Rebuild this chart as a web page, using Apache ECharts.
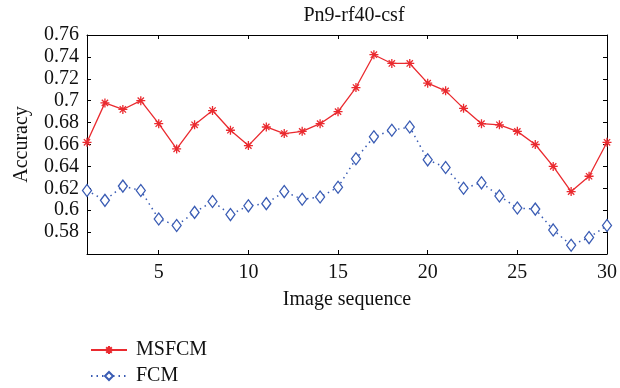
<!DOCTYPE html>
<html><head><meta charset="utf-8">
<script src="https://cdn.jsdelivr.net/npm/echarts@6/dist/echarts.min.js"></script>
<style>html,body{margin:0;padding:0;background:#fff}#c{width:620px;height:388px}</style>
</head><body><div id="c"></div>
<script>
var imageSeq = [1,2,3,4,5,6,7,8,9,10,11,12,13,14,15,16,17,18,19,20,21,22,23,24,25,26,27,28,29,30];
var msfcm = [0.662,0.698,0.692,0.700,0.679,0.656,0.678,0.691,0.673,0.659,0.676,0.670,0.672,0.679,0.690,0.712,0.742,0.734,0.734,0.716,0.709,0.693,0.679,0.678,0.672,0.660,0.640,0.617,0.631,0.662];
var fcm = [0.618,0.609,0.622,0.618,0.592,0.586,0.598,0.608,0.596,0.604,0.606,0.617,0.610,0.612,0.621,0.647,0.667,0.673,0.676,0.646,0.639,0.620,0.625,0.613,0.602,0.601,0.582,0.568,0.575,0.586];
var xTicks = [5,10,15,20,25,30];
var yTicks = [0.58,0.6,0.62,0.64,0.66,0.68,0.7,0.72,0.74,0.76];
var seriesNames = ['MSFCM','FCM'];
var titleText = 'Pn9-rf40-csf';

var FONT = '"Liberation Serif", "DejaVu Serif", serif';
var red = '#ea2a2f', blue = '#3a5cb4';
var star = 'path://M0 5L10 5M5 0L5 10M1.5 1.5L8.5 8.5M8.5 1.5L1.5 8.5';
function pairs(v){ return v.map(function(y,i){ return [imageSeq[i], y]; }); }

var chart = echarts.init(document.getElementById('c'), null, {renderer:'canvas'});
var axLine = {show:true, lineStyle:{color:'#000', width:1}};
var FS = 20;
var lblStyle = {fontFamily:FONT, fontSize:FS, color:'#111'};
function legendFor(name, top){
  return {orient:'vertical', left:85, top:top, itemWidth:36, itemHeight:10, itemGap:12,
    data:[name], textStyle:{fontFamily:FONT, fontSize:FS, color:'#111', padding:[0,0,0,4]}};
}
chart.setOption({
  animation:false,
  textStyle:{fontFamily:FONT},
  title:{text:titleText, left:349, top:1, textAlign:'center',
    textStyle:{fontFamily:FONT, fontSize:FS, fontWeight:'normal', color:'#111'}},
  grid:{left:87, right:8, top:35, bottom:134, containLabel:false},
  legend:[legendFor(seriesNames[0], 335), legendFor(seriesNames[1], 361)],
  xAxis:[{type:'value', min:1, max:30, position:'bottom',
      name:'Image sequence', nameLocation:'middle', nameGap:36,
      nameTextStyle:lblStyle,
      axisLine:axLine,
      axisTick:{show:true, inside:true, length:4, customValues:xTicks, lineStyle:{color:'#000'}},
      axisLabel:{fontFamily:FONT, fontSize:FS, color:'#111', margin:9, customValues:xTicks},
      splitLine:{show:false}},
    {type:'value', min:1, max:30, position:'top',
      axisLine:axLine,
      axisTick:{show:true, inside:true, length:4, customValues:xTicks, lineStyle:{color:'#000'}},
      axisLabel:{show:false}, splitLine:{show:false}}],
  yAxis:[{type:'value', min:0.56, max:0.76, position:'left',
      name:'Accuracy', nameLocation:'middle', nameGap:55, nameRotate:90,
      nameTextStyle:lblStyle,
      axisLine:axLine,
      axisTick:{show:true, inside:true, length:4, customValues:yTicks, lineStyle:{color:'#000'}},
      axisLabel:{fontFamily:FONT, fontSize:FS, color:'#111', margin:8, customValues:yTicks},
      splitLine:{show:false}},
    {type:'value', min:0.56, max:0.76, position:'right',
      axisLine:axLine,
      axisTick:{show:true, inside:true, length:4, customValues:yTicks, lineStyle:{color:'#000'}},
      axisLabel:{show:false}, splitLine:{show:false}}],
  series:[
    {name:seriesNames[0], type:'line', data:pairs(msfcm), symbol:star, symbolSize:9,
      lineStyle:{color:red, width:1.3}, itemStyle:{color:red, borderColor:red, borderWidth:1.3}},
    {name:seriesNames[1], type:'line', data:pairs(fcm), symbol:'diamond', symbolSize:[9,12],
      lineStyle:{color:blue, width:1.5, type:[1.5,4]},
      itemStyle:{color:'#fff', borderColor:blue, borderWidth:1.3}}
  ]
});
</script></body></html>
